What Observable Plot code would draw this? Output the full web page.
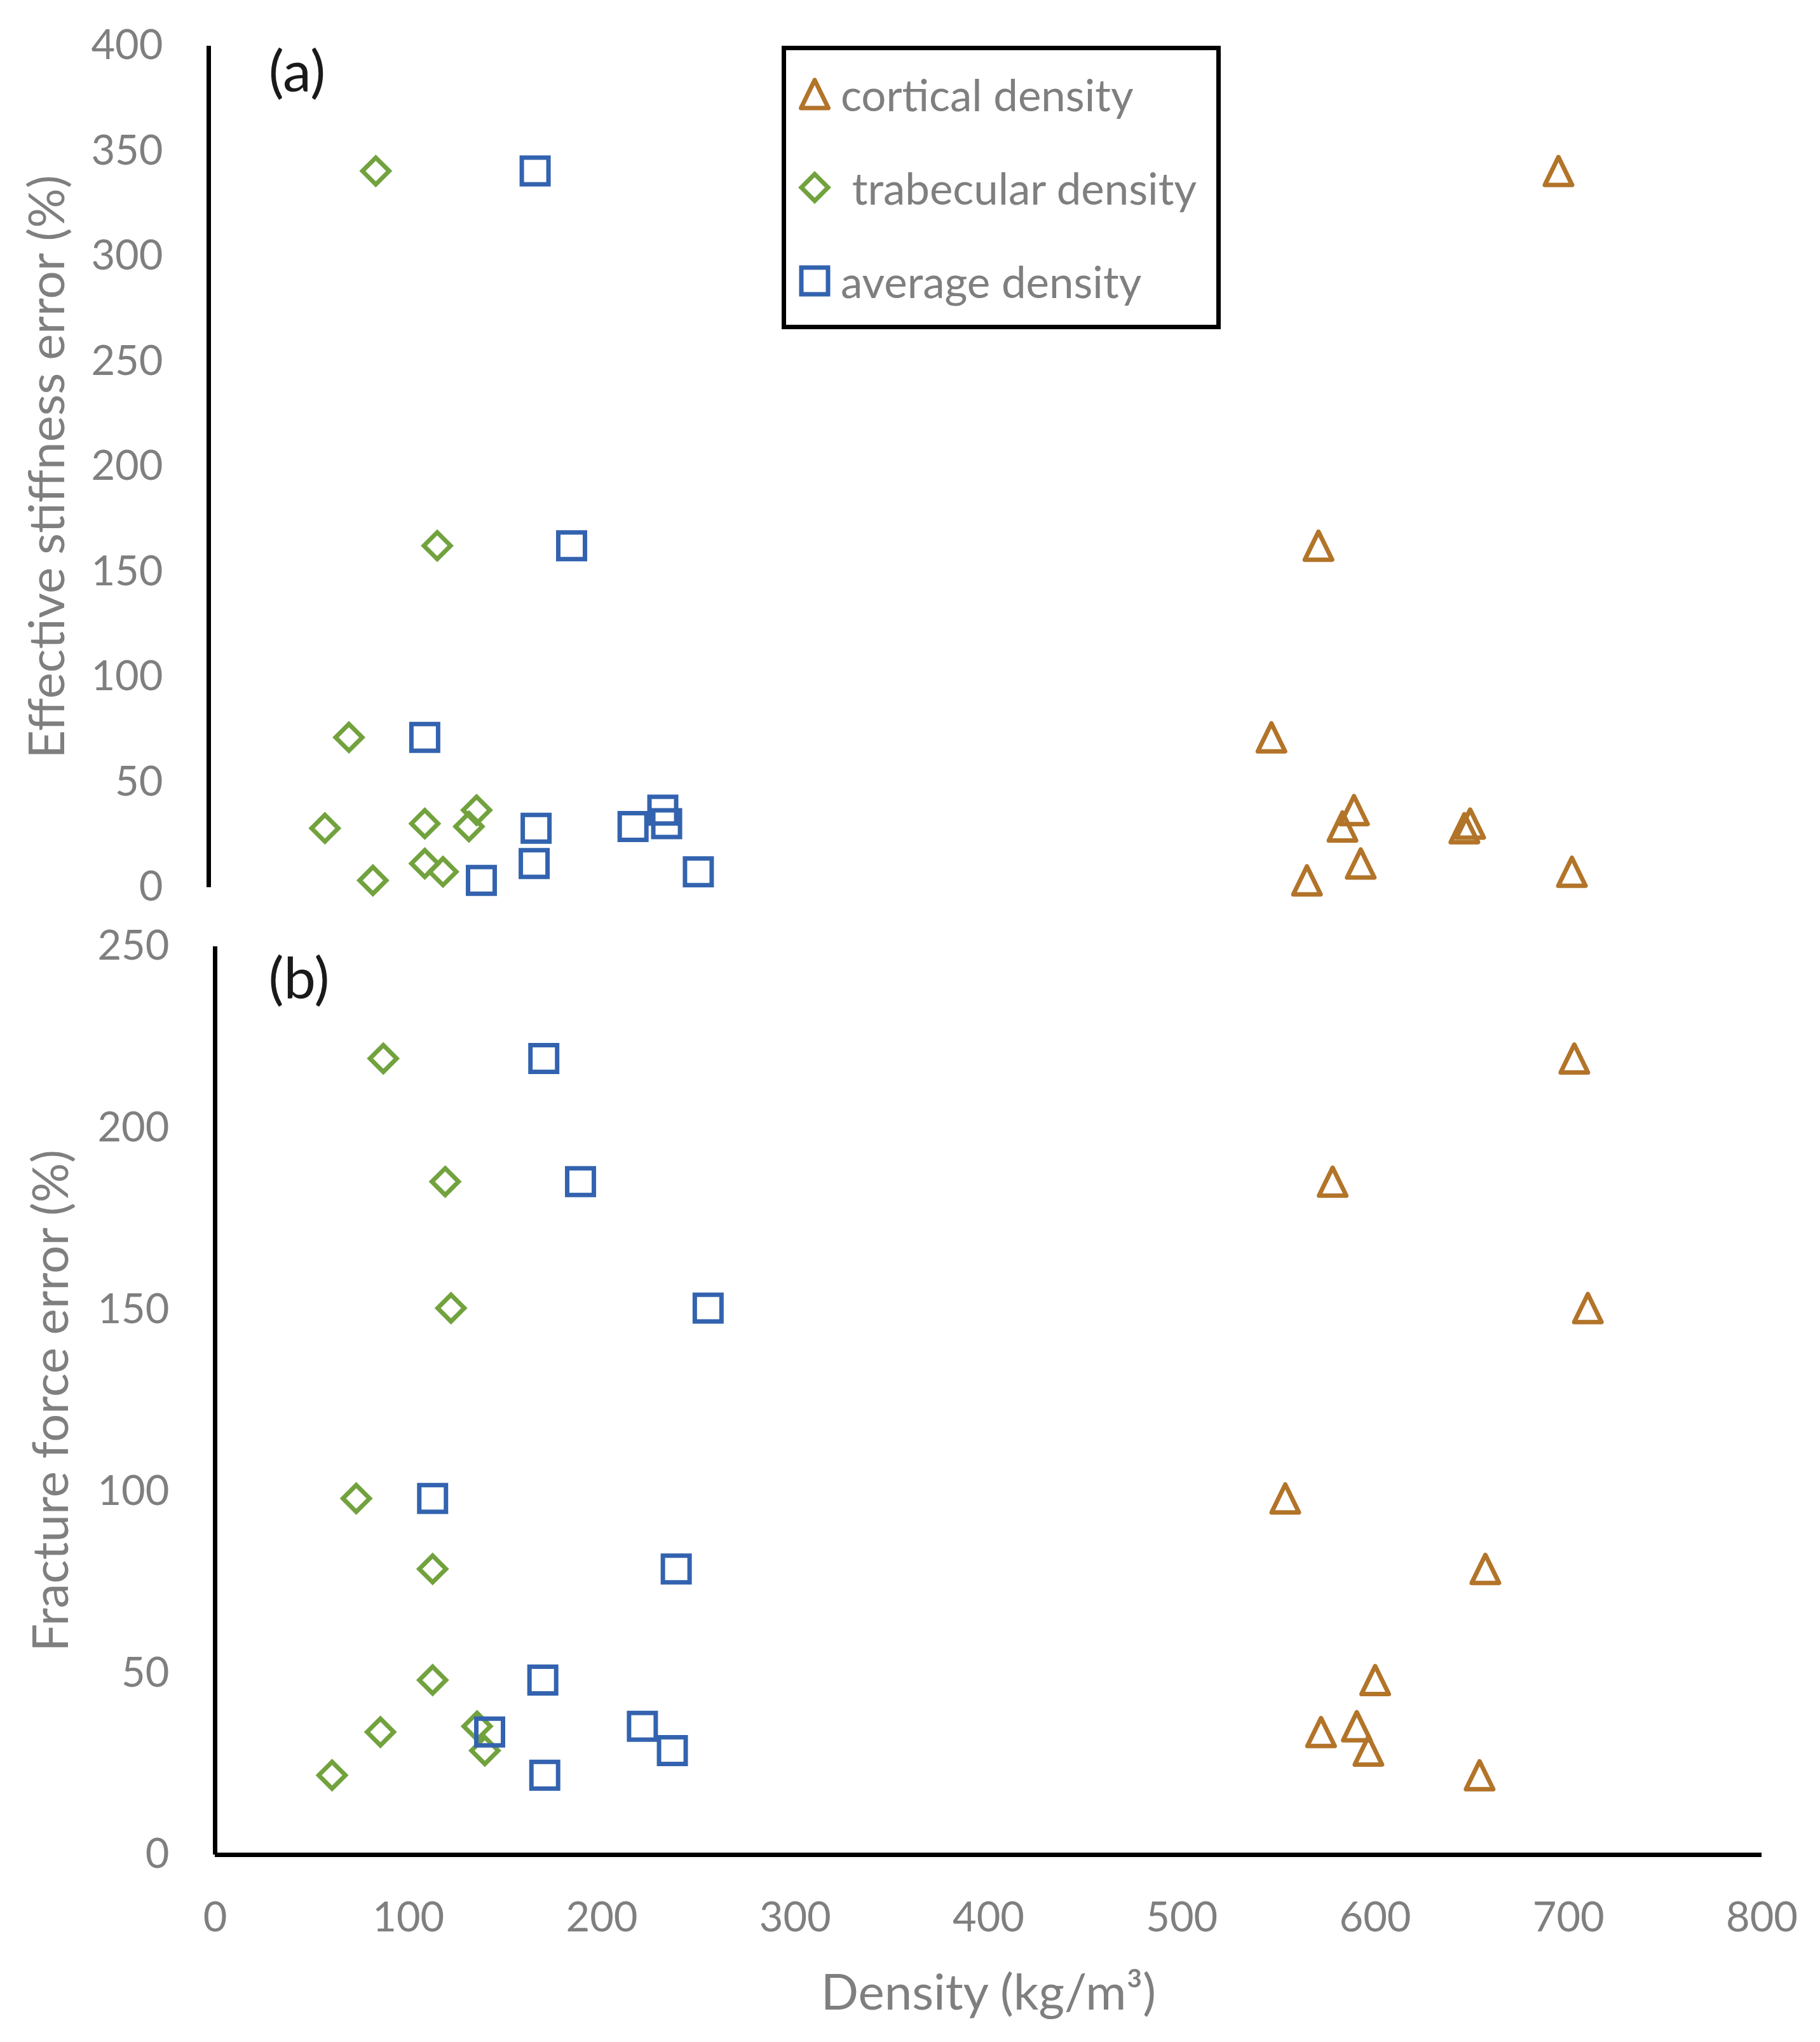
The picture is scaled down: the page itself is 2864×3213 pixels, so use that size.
<!DOCTYPE html>
<html>
<head>
<meta charset="utf-8">
<script src="https://cdn.jsdelivr.net/npm/d3@7"></script>
<script src="https://cdn.jsdelivr.net/npm/@observablehq/plot@0.6"></script>
<style>
  html, body { margin: 0; padding: 0; background: #fff; }
  #fig { position: relative; width: 2864px; height: 3213px; font-family: Lato, sans-serif; background: #fff; }
  #top, #bottom { position: absolute; left: 0; }
  #top { top: 0; }
  #bottom { top: 1460px; }
  #legend { position: absolute; left: 1230px; top: 72px; width: 691px; height: 446px; border: 7px solid #000; box-sizing: border-box; background: #fff; }
  #legend svg { position: absolute; overflow: visible; }
  #legend span { position: absolute; white-space: pre; font-size: 69px; line-height: 1; color: #7f7f7f; transform: translateY(-50%); }
</style>
</head>
<body>
<div id="fig">
  <div id="top"></div>
  <div id="bottom"></div>
  <div id="legend"></div>
</div>
<script>
// ---- data (one entry per specimen) ----
const corticalDensity   = [703, 578, 710, 553.5, 657, 600, 572, 590.5, 596.5, 654];
const trabecularDensity = [87, 119, 122, 73, 112.5, 112.5, 85.5, 135.5, 139.5, 60.5];
const averageDensity    = [170, 189, 255, 112.5, 238.5, 169.5, 142, 221, 236.5, 170.5];
const stiffnessError    = [340.6, 162.5, 7.5, 71.4, 30.4, 11.4, 3.4, 29.0, 36.8, 28.2];
const fractureError     = [219.2, 185.3, 150.5, 98.1, 78.7, 48.1, 33.8, 35.4, 28.7, 21.9];
const seriesNames = ["cortical density", " trabecular density", "average density"];
const seriesKeys = ["cortical", "trabecular", "average"];
const stiffnessTicks = [0, 50, 100, 150, 200, 250, 300, 350, 400];
const fractureTicks = [0, 50, 100, 150, 200, 250];
const densityTicks = [0, 100, 200, 300, 400, 500, 600, 700, 800];
const panelLabels = ["(a)", "(b)"];
const yTitles = ["Effective stiffness error (%)", "Fracture force error (%)"];
const xTitle = "Density (kg/m\u00B3)";

const rows = corticalDensity.map((c, i) => ({
  cortical: c,
  trabecular: trabecularDensity[i],
  average: averageDensity[i],
  stiffness: stiffnessError[i],
  fracture: fractureError[i]
}));

// ---- marker shapes & styles ----
const triSym = {draw(ctx) { ctx.moveTo(0, -22); ctx.lineTo(21.5, 22); ctx.lineTo(-21.5, 22); ctx.closePath(); }};
const diaSym = {draw(ctx) { const h = 21; ctx.moveTo(0, -h); ctx.lineTo(h, 0); ctx.lineTo(0, h); ctx.lineTo(-h, 0); ctx.closePath(); }};
const sqSym  = {draw(ctx) { ctx.moveTo(-21, -21); ctx.lineTo(21, -21); ctx.lineTo(21, 21); ctx.lineTo(-21, 21); ctx.closePath(); }};
const symbols = [triSym, diaSym, sqSym];
const colors = ["#B27429", "#72A23E", "#3363AF"];
const joins = ["round", "miter", "miter"];

const gray = "#7f7f7f";
const baseStyle = {fontFamily: "Lato, sans-serif", fontSize: "65px", color: gray, background: "white", overflow: "visible"};

function dotMarks(yKey) {
  return seriesKeys.map((k, i) => Plot.dot(rows, {
    x: k, y: yKey, symbol: symbols[i], r: 20,
    stroke: colors[i], strokeWidth: 7, fill: "none", strokeLinejoin: joins[i]
  }));
}

const topPlot = Plot.plot({
  width: 2864, height: 1460,
  marginLeft: 328, marginRight: 119, marginTop: 72, marginBottom: 64,
  x: {domain: [0, 800], axis: null},
  y: {domain: [0, 400], ticks: stiffnessTicks, tickSize: 0, tickPadding: 72, label: null},
  style: baseStyle,
  marks: [
    Plot.ruleX([0], {stroke: "#000", strokeWidth: 7}),
    ...dotMarks("stiffness"),
    Plot.text([panelLabels[0]], {text: d => d, frameAnchor: "top-left", dx: 139, dy: 43, fill: "#1a1a1a", fontSize: 90, textAnchor: "middle", lineAnchor: "middle"}),
    Plot.text([yTitles[0]], {text: d => d, frameAnchor: "left", dx: -252, rotate: -90, fill: gray, fontSize: 78, textAnchor: "middle", lineAnchor: "middle"})
  ]
});
document.getElementById("top").appendChild(topPlot);

const bottomPlot = Plot.plot({
  width: 2864, height: 1753,
  marginLeft: 338, marginRight: 92, marginTop: 29, marginBottom: 295,
  x: {domain: [0, 800], ticks: densityTicks, tickSize: 0, tickPadding: 74, label: null},
  y: {domain: [0, 250], ticks: fractureTicks, tickSize: 0, tickPadding: 72, label: null},
  style: baseStyle,
  marks: [
    Plot.ruleX([0], {stroke: "#000", strokeWidth: 7}),
    Plot.ruleY([0], {stroke: "#000", strokeWidth: 7}),
    ...dotMarks("fracture"),
    Plot.text([panelLabels[1]], {text: d => d, frameAnchor: "top-left", dx: 132, dy: 53, fill: "#1a1a1a", fontSize: 90, textAnchor: "middle", lineAnchor: "middle"}),
    Plot.text([yTitles[1]], {text: d => d, frameAnchor: "left", dx: -256, rotate: -90, fill: gray, fontSize: 78, textAnchor: "middle", lineAnchor: "middle"}),
    Plot.text([xTitle], {text: d => d, frameAnchor: "bottom", dy: 219, fill: gray, fontSize: 78, textAnchor: "middle", lineAnchor: "middle"})
  ]
});
document.getElementById("bottom").appendChild(bottomPlot);

// ---- legend ----
const legend = document.getElementById("legend");
const legendY = [69, 216, 363];
seriesNames.forEach((name, i) => {
  const svg = d3.create("svg").attr("width", 60).attr("height", 60)
    .style("left", (45 - 30) + "px").style("top", (legendY[i] - 30) + "px");
  svg.append("path")
    .attr("transform", "translate(30,30)")
    .attr("d", d3.symbol(symbols[i], 1)())
    .attr("fill", "none").attr("stroke", colors[i]).attr("stroke-width", 7)
    .attr("stroke-linejoin", joins[i]);
  legend.appendChild(svg.node());
  const span = document.createElement("span");
  span.textContent = name;
  span.style.left = "86px";
  span.style.top = legendY[i] + "px";
  legend.appendChild(span);
});
</script>
</body>
</html>
